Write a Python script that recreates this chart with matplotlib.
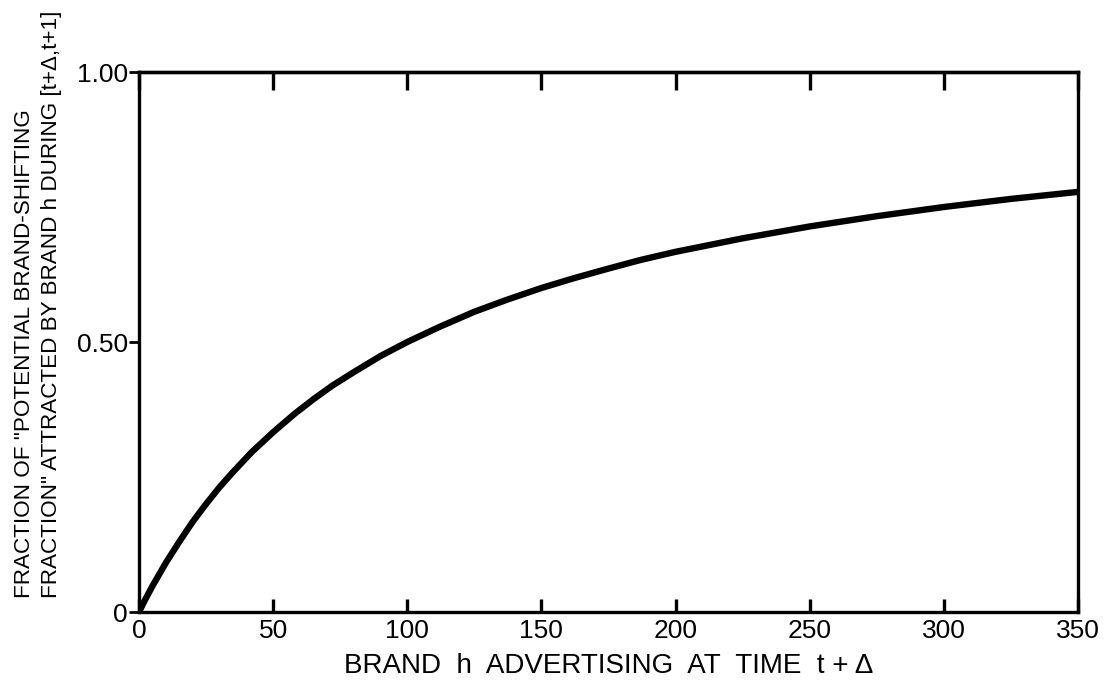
import numpy as np
import matplotlib.pyplot as plt

# === DATA ===
advertising = [0, 2, 5, 10, 15, 20, 25, 30, 35, 42, 50, 58, 65, 72, 80, 90,
               100, 112, 125, 137, 150, 162, 175, 187, 200, 225, 250, 275,
               300, 325, 350]
fraction = [0, 0.02, 0.048, 0.091, 0.130, 0.167, 0.200, 0.231, 0.259, 0.296,
            0.333, 0.367, 0.394, 0.419, 0.444, 0.474, 0.500, 0.528, 0.556,
            0.578, 0.600, 0.618, 0.636, 0.652, 0.667, 0.692, 0.714, 0.733,
            0.750, 0.765, 0.778]

x_ticks = [0, 50, 100, 150, 200, 250, 300, 350]
y_ticks = [0, 0.5, 1.0]
y_tick_labels = ["0", "0.50", "1.00"]

x_label = "BRAND  h  ADVERTISING  AT  TIME  t + \u0394"
y_label = ('FRACTION OF "POTENTIAL BRAND-SHIFTING\n'
           'FRACTION" ATTRACTED BY BRAND h DURING [t+\u0394,t+1]')

# === PLOT ===
plt.rcParams['font.family'] = ['Liberation Sans', 'DejaVu Sans']

fig = plt.figure(figsize=(11.04, 6.88), dpi=100)
ax = fig.add_axes([139 / 1104, 1 - 612 / 688, (1078 - 139) / 1104, (612 - 72) / 688])

ax.plot(advertising, fraction, color='black', linewidth=4.6,
        solid_capstyle='round', solid_joinstyle='round')

ax.set_xlim(0, 350)
ax.set_ylim(0, 1.0)

for s in ax.spines.values():
    s.set_linewidth(2.4)

# bottom axis: inward ticks with labels
ax.set_xticks(x_ticks)
ax.set_xticklabels([str(v) for v in x_ticks], fontsize=19)
ax.tick_params(axis='x', direction='in', length=9.5, width=2.4, pad=5)

# top axis: longer inward ticks, no labels
top = ax.secondary_xaxis('top')
top.set_xticks(x_ticks)
top.tick_params(axis='x', direction='in', length=13, width=2.4, labeltop=False)
top.spines['top'].set_linewidth(2.4)

ax.set_yticks(y_ticks)
ax.set_yticklabels(y_tick_labels, fontsize=19)
ax.tick_params(axis='y', direction='out', length=7, width=2.0, pad=1)

ax.set_xlabel(x_label, fontsize=20, labelpad=7)

# two-line y label, both lines starting at the same height
fig.text(38 / 1104, 1 - 598 / 688, y_label, rotation=90, fontsize=16.2,
         ha='center', va='bottom', multialignment='left', linespacing=1.35)

fig.savefig("out.png", dpi=100)
